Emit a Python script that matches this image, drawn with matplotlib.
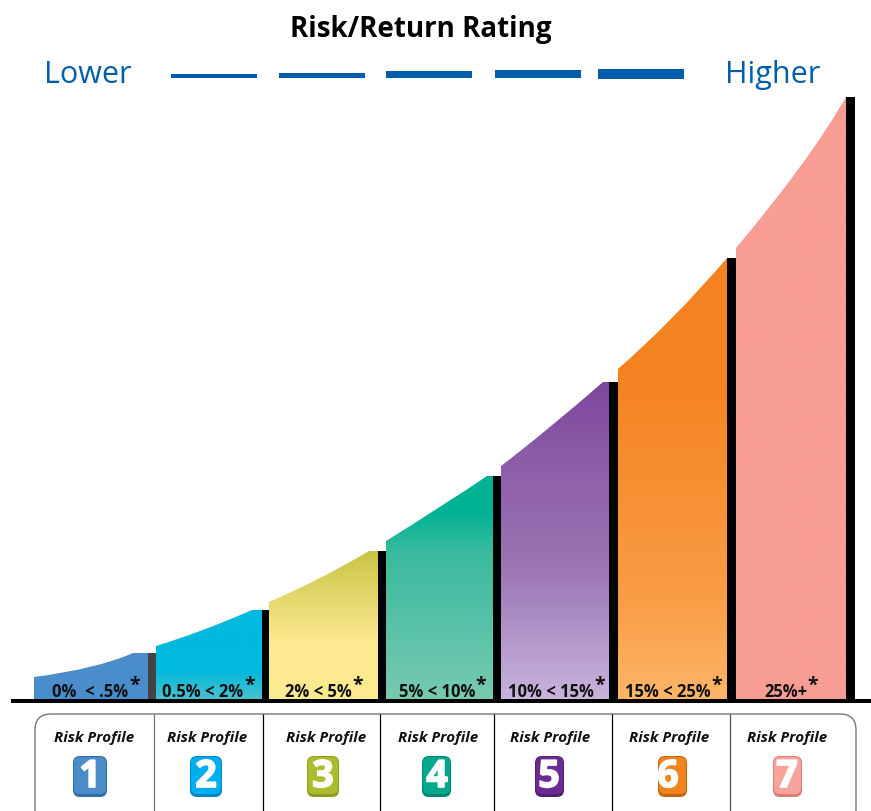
import numpy as np
import matplotlib
matplotlib.use("Agg")
import matplotlib.pyplot as plt
import matplotlib.patheffects as pe
from matplotlib.colors import LinearSegmentedColormap
from matplotlib.patches import FancyBboxPatch, PathPatch
from matplotlib.path import Path

plt.rcParams["font.family"] = ["Open Sans", "DejaVu Sans"]

BLUE = "#005eaa"

# bands: x of each read point along the top edge, and height above the baseline
band_x = [
	[34, 90, 133, 148],
	[156, 203, 252, 262],
	[269, 320, 369, 378],
	[386, 443, 487, 493],
	[501, 550, 603, 609],
	[618, 673, 727],
	[736, 800, 846],
]
band_h = [
	[23, 33, 47, 47],
	[54, 70, 90, 90],
	[98, 122, 149, 149],
	[159, 195, 224, 224],
	[234, 273, 318, 318],
	[331, 383, 442],
	[452, 533, 603],
]
# colour stops: (height above baseline, colour)
band_stops = [
	[(0, "#4a8dcb"), (47, "#4a8dcb")],
	[(0, "#4cc1cf"), (30, "#00b9dc"), (90, "#00b9dc")],
	[(0, "#fce990"), (60, "#fce990"), (149, "#c9c445")],
	[(0, "#78cab0"), (100, "#4dbfa5"), (145, "#3cbb9f"), (190, "#00b294"), (224, "#00b294")],
	[(0, "#c9b4dc"), (100, "#a585bf"), (140, "#9b72b2"), (250, "#8a5ba6"), (318, "#7d459c")],
	[(0, "#fdb668"), (100, "#f99d45"), (330, "#f58220"), (442, "#f58220")],
	[(0, "#f89d94"), (603, "#f89d94")],
]
bar_x = [148, 262, 378, 493, 609, 727, 846]
bar_w = [8, 7, 8, 8, 9, 9, 9]
bar_h = [47, 90, 149, 224, 318, 442, 603]
bar_colors = ["#444444", "black", "black", "black", "black", "black", "black"]

range_labels = ["0%  < .5%", "0.5% < 2%", "2% < 5%", "5% < 10%", "10% < 15%", "15% < 25%", "25%+"]
label_x = [90, 203, 318, 437, 551, 668, 786]
star_x = [135, 250, 358, 481, 600, 717, 813]

# risk profile table
profile_x = [94, 207, 326, 438, 550, 669, 787]
badge_left = [73, 190, 307, 422, 535, 658, 773]
badge_w = [34, 32, 32, 29, 29, 29, 29]
badge_colors = ["#4a8cc8", "#00aeef", "#aebb2e", "#00a88e", "#6b2c91", "#f28420", "#f5a39b"]
badge_dark = ["#2f6ea8", "#0085c0", "#8d9a1e", "#00866f", "#4f1f70", "#c9650f", "#d97f77"]
badge_x = [90, 206, 323, 437, 549, 668, 787]
divider_x = [154, 263, 380, 494, 612, 730]
divider_colors = ["#777777", "black", "black", "black", "black", "#555555"]

# rating dashes above the chart
dash_left = [171, 279, 386, 495, 598]
dash_thick = [4, 5, 7, 8, 10]
dash_y = [624, 624.5, 625.5, 626, 626]


def band_outline(xs, hs):
	# quadratic through the first three read points, then straight on to the end
	ctrl_x = 2 * xs[1] - 0.5 * (xs[0] + xs[2])
	ctrl_h = 2 * hs[1] - 0.5 * (hs[0] + hs[2])
	verts = [(xs[0], 0), (xs[0], hs[0]), (ctrl_x, ctrl_h), (xs[2], hs[2])]
	codes = [Path.MOVETO, Path.LINETO, Path.CURVE3, Path.CURVE3]
	for x, h in zip(xs[3:], hs[3:]):
		verts.append((x, h))
		codes.append(Path.LINETO)
	verts += [(xs[-1], 0), (xs[0], 0)]
	codes += [Path.LINETO, Path.CLOSEPOLY]
	return Path(verts, codes)


def draw_band(ax, xs, hs, stops):
	top = max(h for h, _ in stops)
	nodes = [(h / top, c) for h, c in stops]
	cmap = LinearSegmentedColormap.from_list("band", nodes)
	grad = np.linspace(1, 0, 256).reshape(-1, 1)
	im = ax.imshow(grad, cmap=cmap, vmin=0, vmax=1, aspect="auto",
				   extent=(xs[0], xs[-1], 0, top), zorder=2)
	outline = PathPatch(band_outline(xs, hs), fc="none", ec="none", transform=ax.transData)
	ax.add_patch(outline)
	im.set_clip_path(outline)


fig = plt.figure(figsize=(8.71, 8.12), dpi=100)
ax = fig.add_axes([0, 0, 1, 1])

for xs, hs, stops in zip(band_x, band_h, band_stops):
	draw_band(ax, xs, hs, stops)

ax.bar(bar_x, bar_h, width=bar_w, align="edge", color=bar_colors, zorder=3)
ax.barh(-1, 860, height=4, left=11, color="black", zorder=3)

for x, sx, lab in zip(label_x, star_x, range_labels):
	ax.text(x, 9, lab, ha="center", va="center", fontsize=12, fontweight="bold", color="#111111", zorder=4)
	ax.text(sx, 15, "*", ha="center", va="center", fontsize=14, fontweight="bold", color="#111111", zorder=4)

# table outline runs off the bottom of the picture
box = FancyBboxPatch((35, -125), 821, 111, boxstyle="round,pad=0,rounding_size=16",
					 fc="white", ec="#777777", lw=1, zorder=1)
ax.add_patch(box)
ax.vlines(divider_x, -112, -14, colors=divider_colors, lw=0.9, zorder=2)

for lab_x in profile_x:
	ax.text(lab_x, -37, "Risk Profile", ha="center", va="center", fontsize=10.9,
			fontweight="bold", fontstyle="italic", color="#111111")

for i in range(7):
	base = FancyBboxPatch((badge_left[i], -97), badge_w[i], 41, boxstyle="round,pad=0,rounding_size=7",
						  fc=badge_dark[i], ec="none", zorder=3)
	face = FancyBboxPatch((badge_left[i] + 1, -94), badge_w[i] - 2, 37, boxstyle="round,pad=0,rounding_size=6",
						  fc=badge_colors[i], ec="none", zorder=4)
	ax.add_patch(base)
	ax.add_patch(face)
	num = ax.text(badge_x[i], -77, str(i + 1), ha="center", va="center", fontsize=27,
				  fontweight="bold", color="white", zorder=5)
	num.set_path_effects([pe.withStroke(linewidth=1.2, foreground="white")])

# header
ax.text(421, 672, "Risk/Return Rating", ha="center", va="center", fontsize=20, fontweight="bold", color="black")
ax.text(88, 626, "Lower", ha="center", va="center", fontsize=22, color=BLUE)
ax.text(773, 626, "Higher", ha="center", va="center", fontsize=22, color=BLUE)
ax.barh(dash_y, [86] * 5, height=dash_thick, left=dash_left, color=BLUE)

ax.set_xlim(0, 871)
ax.set_ylim(-111, 701)
ax.axis("off")

fig.savefig("out.png", dpi=100)
